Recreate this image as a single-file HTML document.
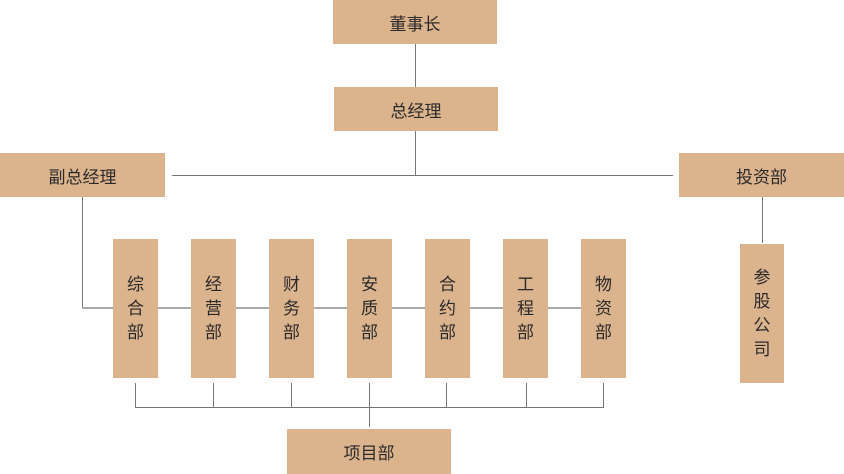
<!DOCTYPE html>
<html><head><meta charset="utf-8"><style>
body{margin:0;width:844px;height:474px;background:#fff;position:relative;overflow:hidden;font-family:"Liberation Sans","Noto Sans CJK SC",sans-serif;color:#2a2a2a}
.b{position:absolute;background:#dbb38c;display:flex;align-items:center;justify-content:center;font-size:17px}
.v{flex-direction:column;line-height:24px}
.l{position:absolute;background:#777}
</style></head><body>
<div class="b" style="left:333px;top:0;width:164px;height:44px">董事长</div>
<div class="b" style="left:334px;top:87px;width:164px;height:44px">总经理</div>
<div class="b" style="left:0;top:153px;width:165px;height:44px">副总经理</div>
<div class="b" style="left:679px;top:153px;width:165px;height:44px">投资部</div>
<div class="l" style="left:415px;top:44px;width:1px;height:43px"></div>
<div class="l" style="left:415px;top:131px;width:1px;height:44px"></div>
<div class="l" style="left:172px;top:175px;width:501px;height:1px"></div>
<div class="l" style="left:82px;top:197px;width:1px;height:111px"></div>
<div class="l" style="left:82px;top:307px;width:520px;height:2px;background:#aaa"></div>
<div class="l" style="left:762px;top:197px;width:1px;height:46px"></div>
<div class="b v" style="left:740px;top:244px;width:44px;height:139px"><span>参</span><span>股</span><span>公</span><span>司</span></div>
<div class="b v" style="left:113px;top:239px;width:45px;height:139px"><span>综</span><span>合</span><span>部</span></div>
<div class="b v" style="left:191px;top:239px;width:45px;height:139px"><span>经</span><span>营</span><span>部</span></div>
<div class="b v" style="left:269px;top:239px;width:45px;height:139px"><span>财</span><span>务</span><span>部</span></div>
<div class="b v" style="left:347px;top:239px;width:45px;height:139px"><span>安</span><span>质</span><span>部</span></div>
<div class="b v" style="left:425px;top:239px;width:45px;height:139px"><span>合</span><span>约</span><span>部</span></div>
<div class="b v" style="left:503px;top:239px;width:45px;height:139px"><span>工</span><span>程</span><span>部</span></div>
<div class="b v" style="left:581px;top:239px;width:45px;height:139px"><span>物</span><span>资</span><span>部</span></div>
<div class="l" style="left:135px;top:383px;width:1px;height:24px"></div>
<div class="l" style="left:213px;top:383px;width:1px;height:24px"></div>
<div class="l" style="left:291px;top:383px;width:1px;height:24px"></div>
<div class="l" style="left:369px;top:383px;width:1px;height:44px"></div>
<div class="l" style="left:446px;top:383px;width:1px;height:24px"></div>
<div class="l" style="left:526px;top:383px;width:1px;height:24px"></div>
<div class="l" style="left:603px;top:383px;width:1px;height:24px"></div>
<div class="l" style="left:135px;top:407px;width:469px;height:1px"></div>
<div class="b" style="left:287px;top:429px;width:164px;height:45px">项目部</div>
</body></html>
